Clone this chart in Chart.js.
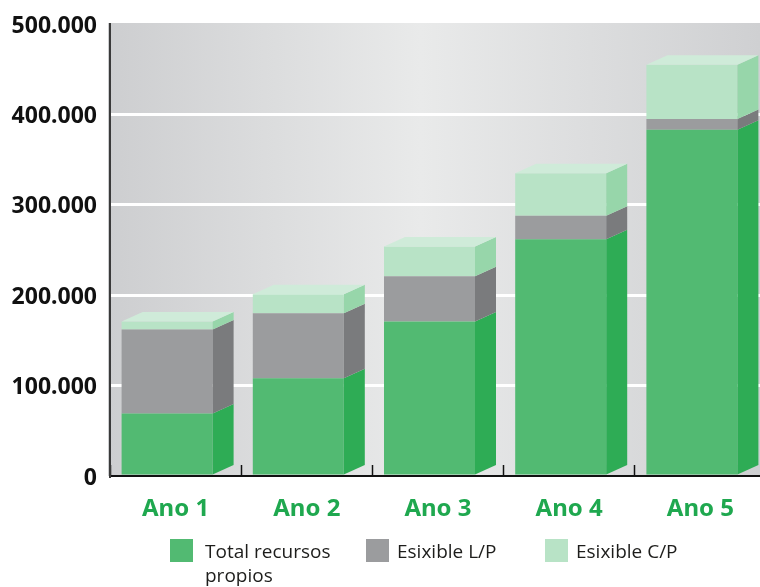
<!DOCTYPE html>
<html lang="es">
<head>
<meta charset="utf-8">
<title>Estrutura financeira</title>
<style>
  html, body { margin: 0; padding: 0; width: 760px; height: 587px; overflow: hidden; background: #fff; }
  #wrap { position: relative; width: 760px; height: 587px; overflow: hidden; }
  canvas { position: absolute; left: 0; top: 0; }
  .key { position: absolute; top: 539px; font: 400 19px/24px "Open Sans", "Noto Sans", sans-serif; color: #1d1d1b; }
  .key i { position: absolute; left: 0; top: 0; width: 23px; height: 23px; }
  .key span { position: absolute; top: 0; display: block; }
</style>
<script src="https://cdn.jsdelivr.net/npm/chart.js@4/dist/chart.umd.js"></script>
</head>
<body>
<div id="wrap">
  <canvas id="chart" width="780" height="587"></canvas>
  <div id="legend"></div>
</div>
<script>
// Categories and stacked series, in euros
const categories = ["Ano 1", "Ano 2", "Ano 3", "Ano 4", "Ano 5"];
const recursosPropios = [69000, 108000, 171000, 262000, 383000];
const esixibleLP = [93000, 72000, 50000, 26000, 12000];
const esixibleCP = [9000, 21000, 33000, 47000, 60000];
const seriesNames = ["Total recursos\npropios", "Esixible L/P", "Esixible C/P"];
const frontColors = ["#52BA72", "#9B9C9E", "#B8E3C6"];
const sideColors = ["#2EAC55", "#7A7B7D", "#97D6AA"];
const topColor = "#CFEBD9";

// Extrusion of the bars, in pixels
const DEPTH_X = 21;
const DEPTH_Y = 9.5;

const plotBackground = {
  id: "plotBackground",
  beforeDraw(chart) {
    const { ctx, chartArea: a } = chart;
    const g = ctx.createLinearGradient(108, 0, 760, 0);
    g.addColorStop(0, "#CDCED0");
    g.addColorStop(0.48, "#E9EAEA");
    g.addColorStop(1, "#CFD0D2");
    ctx.save();
    ctx.fillStyle = g;
    ctx.fillRect(108, a.top - 1, 652, a.bottom - a.top + 1);
    ctx.restore();
  }
};

function face(ctx, color, pts) {
  ctx.fillStyle = color;
  ctx.beginPath();
  pts.forEach((p, i) => (i ? ctx.lineTo(p[0], p[1]) : ctx.moveTo(p[0], p[1])));
  ctx.closePath();
  ctx.fill();
}

// Moves the bars left inside their band and adds side and top faces
const extrudedBars = {
  id: "extrudedBars",
  afterDatasetsUpdate(chart) {
    chart.data.datasets.forEach((_, d) => {
      chart.getDatasetMeta(d).data.forEach(el => { el.x -= 8.5; });
    });
  },
  afterDatasetsDraw(chart) {
    const { ctx } = chart;
    const last = chart.data.datasets.length - 1;
    ctx.save();
    chart.data.datasets.forEach((_, d) => {
      chart.getDatasetMeta(d).data.forEach(el => {
        const right = el.x + el.width / 2;
        const left = el.x - el.width / 2;
        face(ctx, sideColors[d], [
          [right, el.y], [right + DEPTH_X, el.y - DEPTH_Y],
          [right + DEPTH_X, el.base - DEPTH_Y], [right, el.base]
        ]);
        if (d === last) {
          face(ctx, topColor, [
            [left, el.y], [left + DEPTH_X, el.y - DEPTH_Y],
            [right + DEPTH_X, el.y - DEPTH_Y], [right, el.y]
          ]);
        }
      });
    });
    ctx.restore();
  }
};

new Chart(document.getElementById("chart"), {
  type: "bar",
  data: {
    labels: categories,
    datasets: [recursosPropios, esixibleLP, esixibleCP].map((values, i) => ({
      label: seriesNames[i].replace("\n", " "),
      data: values,
      backgroundColor: frontColors[i],
      borderWidth: 0,
      barPercentage: 91 / 131.2,
      categoryPercentage: 1
    }))
  },
  plugins: [plotBackground, extrudedBars],
  options: {
    responsive: false,
    animation: false,
    devicePixelRatio: 1,
    layout: { padding: { top: 24, right: 14, left: 0, bottom: 0 } },
    plugins: { legend: { display: false }, tooltip: { enabled: false } },
    scales: {
      x: {
        stacked: true,
        afterFit(s) { s.height = 111; s.paddingLeft = 0; s.paddingRight = 0; },
        border: { color: "#111", width: 2 },
        grid: { drawOnChartArea: false, drawTicks: true, tickLength: -11, tickColor: "#111", tickWidth: 1.5, offset: true },
        ticks: {
          color: "#1FA84F",
          padding: 30,
          maxRotation: 0,
          font: { family: "'Noto Sans'", size: 24, weight: "bold" }
        }
      },
      y: {
        stacked: true,
        min: 0,
        max: 500000,
        afterFit(s) { s.width = 110; s.paddingTop = 0; s.paddingBottom = 0; },
        border: { color: "#3a3a3a", width: 2 },
        grid: {
          drawTicks: false,
          lineWidth: 3,
          color: c => (c.tick.value === 0 || c.tick.value === 500000 ? "rgba(0,0,0,0)" : "#FFFFFF")
        },
        ticks: {
          stepSize: 100000,
          padding: 13,
          labelOffset: 2,
          color: "#111",
          callback: v => (v === 0 ? "0" : String(v / 1000) + ".000"),
          font: { family: "'Noto Sans'", size: 23, weight: "bold" }
        }
      }
    }
  }
});

// Legend row under the chart
const legendLefts = [170, 366, 545];
const textLefts = [35, 31, 31];
document.getElementById("legend").innerHTML = seriesNames.map((name, i) =>
  `<div class="key" style="left:${legendLefts[i]}px"><i style="background:${frontColors[i]}"></i>` +
  `<span style="left:${textLefts[i]}px;white-space:pre">${name}</span></div>`
).join("");
</script>
</body>
</html>
